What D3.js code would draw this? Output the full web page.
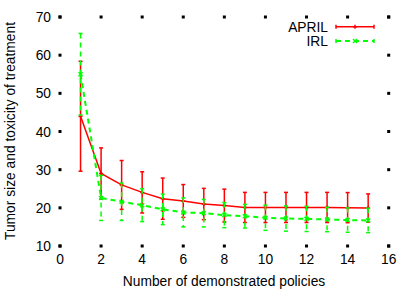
<!DOCTYPE html>
<html lang="en">
<head>
    <meta charset="UTF-8">
    <title>APRIL vs IRL</title>
    <script src="https://d3js.org/d3.v7.min.js"></script>
    <style>
        body { margin: 0; background: #fff; }
        text { font-family: "Liberation Sans", Arial, sans-serif; fill: #000; font-size: 13.8px; }
    </style>
</head>
<body>
    <div id="chart"></div>

    <script>
        // Values
        const policies = [1, 2, 3, 4, 5, 6, 7, 8, 9, 10, 11, 12, 13, 14, 15];
        const aprilMean = [44.0, 29.0, 26.0, 24.05, 22.4, 21.8, 21.0, 20.6, 20.1, 20.1, 20.1, 20.1, 20.1, 20.05, 19.95];
        const aprilErr  = [14.4, 6.7, 6.4, 5.4, 5.4, 4.3, 4.1, 4.3, 3.95, 3.95, 3.95, 3.95, 3.95, 3.95, 3.7];
        const irlMean = [55.0, 22.6, 21.6, 20.7, 19.6, 18.8, 18.6, 18.1, 17.8, 17.4, 17.2, 17.1, 16.95, 16.8, 16.7];
        const irlErr  = [10.7, 5.9, 4.9, 4.3, 4.0, 3.8, 3.6, 3.3, 3.1, 3.3, 3.3, 3.3, 3.2, 3.2, 3.2];
        const xTicks = [0, 2, 4, 6, 8, 10, 12, 14, 16];
        const yTicks = [10, 20, 30, 40, 50, 60, 70];

        const width = 415, height = 291;
        const svg = d3.select("#chart").append("svg")
            .attr("width", width)
            .attr("height", height);

        const x = d3.scaleLinear().domain([0, 16]).range([60, 388.7]);
        const y = d3.scaleLinear().domain([10, 70]).range([246, 17]);

        // gnuplot style: no border, tick marks on all four sides
        const ticks = svg.append("g");
        xTicks.forEach(t => {
            [246, 17].forEach(py => {
                ticks.append("rect")
                    .attr("x", x(t) - 1.5).attr("y", py - 1.5)
                    .attr("width", 3).attr("height", 3);
            });
            svg.append("text")
                .attr("x", x(t)).attr("y", 264)
                .attr("text-anchor", "middle")
                .text(t);
        });
        yTicks.forEach(t => {
            [60, 388.7].forEach(px => {
                ticks.append("rect")
                    .attr("x", px - 1.5).attr("y", y(t) - 1.5)
                    .attr("width", 3).attr("height", 3);
            });
            svg.append("text")
                .attr("x", 51).attr("y", y(t) + 5)
                .attr("text-anchor", "end")
                .text(t);
        });

        svg.append("text")
            .attr("x", 224).attr("y", 286)
            .attr("text-anchor", "middle")
            .text("Number of demonstrated policies");

        svg.append("text")
            .attr("transform", "translate(15,131) rotate(-90)")
            .attr("text-anchor", "middle")
            .text("Tumor size and toxicity of treatment");

        const series = [
            { name: "APRIL", mean: aprilMean, err: aprilErr, color: "#ff0000", dash: null, width: 1.5, marker: "plus" },
            { name: "IRL", mean: irlMean, err: irlErr, color: "#00ff00", dash: "5,4", width: 2, marker: "cross" }
        ];

        function drawMarker(g, cx, cy, s) {
            const r = 2;
            if (s.marker === "plus") {
                g.append("path").attr("d", `M${cx - r},${cy}H${cx + r}M${cx},${cy - r}V${cy + r}`);
            } else {
                g.append("path").attr("d", `M${cx - r},${cy - r}L${cx + r},${cy + r}M${cx - r},${cy + r}L${cx + r},${cy - r}`);
            }
        }

        series.forEach(s => {
            const g = svg.append("g")
                .attr("stroke", s.color)
                .attr("fill", "none");

            const line = d3.line()
                .x((d, i) => x(policies[i]))
                .y(d => y(d));
            g.append("path")
                .attr("d", line(s.mean))
                .attr("stroke-width", s.width)
                .attr("stroke-dasharray", s.dash);

            const eb = g.append("g").attr("stroke-width", 1.5);
            s.mean.forEach((m, i) => {
                const px = x(policies[i]);
                const top = y(m + s.err[i]), bot = y(m - s.err[i]);
                eb.append("line").attr("x1", px).attr("x2", px).attr("y1", top).attr("y2", bot)
                    .attr("stroke-dasharray", s.dash);
                eb.append("line").attr("x1", px - 2).attr("x2", px + 2).attr("y1", top).attr("y2", top);
                eb.append("line").attr("x1", px - 2).attr("x2", px + 2).attr("y1", bot).attr("y2", bot);
                drawMarker(eb, px, y(m), s);
            });
        });

        // Legend
        const legend = svg.append("g");
        series.forEach((s, i) => {
            const ly = 26.7 + i * 14.3;
            legend.append("text")
                .attr("x", 328).attr("y", ly + 5)
                .attr("text-anchor", "end")
                .text(s.name);
            const lg = legend.append("g").attr("stroke", s.color).attr("fill", "none");
            lg.append("line").attr("x1", 336).attr("x2", 374).attr("y1", ly).attr("y2", ly)
                .attr("stroke-width", s.width).attr("stroke-dasharray", s.dash);
            lg.append("line").attr("x1", 336).attr("x2", 336).attr("y1", ly - 2).attr("y2", ly + 2).attr("stroke-width", 1.5);
            lg.append("line").attr("x1", 374).attr("x2", 374).attr("y1", ly - 2).attr("y2", ly + 2).attr("stroke-width", 1.5);
            drawMarker(lg.attr("stroke-width", 1.5), 355, ly, s);
        });
    </script>
</body>
</html>
